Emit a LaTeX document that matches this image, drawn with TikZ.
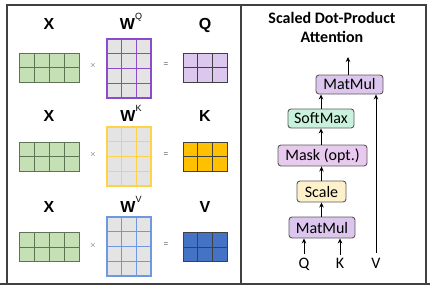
\documentclass[tikz,border=0pt]{standalone}
\usepackage{fontspec}
\setmainfont{Carlito}
\newfontfamily\labfont{Liberation Sans}
\usetikzlibrary{calc,arrows.meta}
\definecolor{frameC}{HTML}{404040}
\definecolor{xFill}{HTML}{C5E0B4}
\definecolor{xDraw}{HTML}{5E7356}
\definecolor{wFill}{HTML}{E4E4E4}
\definecolor{wqDraw}{HTML}{8A4CC8}
\definecolor{wkDraw}{HTML}{FFD24A}
\definecolor{wvDraw}{HTML}{6E98E0}
\definecolor{qFill}{HTML}{DCC8EE}
\definecolor{kFill}{HTML}{FFC000}
\definecolor{vFill}{HTML}{4472C4}
\definecolor{resDraw}{HTML}{404040}
\definecolor{mmFill}{HTML}{DCC6EE}
\definecolor{maskFill}{HTML}{E8CAEE}
\definecolor{smFill}{HTML}{C8F2DE}
\definecolor{scFill}{HTML}{FDF1CC}
\definecolor{boxDraw}{HTML}{5A5A5A}
\definecolor{opC}{HTML}{505050}
\newcommand{\matgrid}[4]{% node, cols, rows, style
  \pgfmathtruncatemacro\mcols{#2-1}%
  \pgfmathtruncatemacro\mrows{#3-1}%
  \foreach \c in {1,...,\mcols}{%
    \draw[#4] ($(#1.north west)!\c/#2!(#1.north east)$) -- ($(#1.south west)!\c/#2!(#1.south east)$);}%
  \foreach \r in {1,...,\mrows}{%
    \draw[#4] ($(#1.north west)!\r/#3!(#1.south west)$) -- ($(#1.north east)!\r/#3!(#1.south east)$);}%
}
\tikzset{
  matnode/.style={rectangle, inner sep=0pt, outer sep=0pt, line width=1pt},
  xmat/.style={matnode, minimum width=60pt, minimum height=29pt, fill=xFill, draw=xDraw},
  wmat/.style={matnode, minimum width=44pt, minimum height=59pt, fill=wFill, line width=1.2pt},
  rmat/.style={matnode, minimum width=44pt, minimum height=29pt, draw=resDraw},
  lab/.style={font=\labfont\bfseries\fontsize{16}{18}\selectfont, anchor=base, inner sep=0pt},
  opsign/.style={font=\labfont\fontsize{8}{9}\selectfont, text=opC, inner sep=0pt},
  blk/.style={rectangle, rounded corners=3pt, draw=boxDraw, line width=0.9pt, inner sep=0pt,
    font=\fontsize{16}{18}\selectfont},
  arr/.style={-{Stealth[length=5pt,width=4.5pt]}, line width=0.9pt, black},
  inlab/.style={font=\fontsize{16}{18}\selectfont, anchor=base, inner sep=0pt},
}
\newcommand{\supr}[1]{\raisebox{10pt}{\fontsize{9}{9}\selectfont\mdseries #1}}
\begin{document}
\begin{tikzpicture}[x=1pt,y=-1pt]
\useasboundingbox (0,0) rectangle (430,287);
% frame
\draw[frameC, line width=1.1pt] (7,284) -- (7,5) -- (426,5) -- (426,284);
\draw[frameC, line width=1.1pt] (0,284) -- (430,284);
\draw[frameC, line width=1.1pt] (241,5) -- (241,284);

% ---------- row 1 ----------
\node[lab] (lx1) at (49,29) {X};
\node[lab] (lw1) at (131,29) {W\supr{Q}};
\node[lab] (lq) at (205,29) {Q};
\node[xmat] (x1) at (49,67.5) {};
\matgrid{x1}{4}{2}{xDraw, line width=1pt}
\node[wmat, draw=wqDraw] (w1) at (129,68.5) {};
\matgrid{w1}{3}{4}{wqDraw, line width=1.2pt}
\node[rmat, fill=qFill] (q) at (205,67.5) {};
\matgrid{q}{3}{2}{resDraw, line width=1pt}
\node[opsign] (t1) at (93,65) {$\times$};
\node[opsign] (e1) at (166,65) {=};

% ---------- row 2 ----------
\node[lab] (lx2) at (49,121.5) {X};
\node[lab] (lw2) at (131,121.5) {W\supr{K}};
\node[lab] (lk) at (205,121.5) {K};
\node[xmat] (x2) at (49,156.5) {};
\matgrid{x2}{4}{2}{xDraw, line width=1pt}
\node[wmat, draw=wkDraw] (w2) at (129,156.5) {};
\matgrid{w2}{3}{4}{wkDraw, line width=1.2pt}
\node[rmat, fill=kFill, draw=frameC] (k) at (205,156.5) {};
\matgrid{k}{3}{2}{resDraw, line width=1pt}
\node[opsign] (t2) at (93,154.5) {$\times$};
\node[opsign] (e2) at (166,154.5) {=};

% ---------- row 3 ----------
\node[lab] (lx3) at (49,212) {X};
\node[lab] (lw3) at (131,212) {W\supr{V}};
\node[lab] (lv) at (205,212) {V};
\node[xmat] (x3) at (49,247) {};
\matgrid{x3}{4}{2}{xDraw, line width=1pt}
\node[wmat, draw=wvDraw] (w3) at (129,246.5) {};
\matgrid{w3}{3}{4}{wvDraw, line width=1.2pt}
\node[rmat, fill=vFill] (v) at (205,247) {};
\matgrid{v}{3}{2}{resDraw, line width=1pt}
\node[opsign] (t3) at (93,245) {$\times$};
\node[opsign] (e3) at (166,245) {=};

% ---------- right panel ----------
\node[font=\bfseries\fontsize{16}{18}\selectfont, anchor=base, inner sep=0pt] (t1a) at (332,23.3) {Scaled Dot-Product};
\node[font=\bfseries\fontsize{16}{18}\selectfont, anchor=base, inner sep=0pt] (t1b) at (332,42.3) {Attention};

\node[blk, fill=mmFill, minimum width=67pt, minimum height=19pt] (mm2) at (349.5,84.5) {MatMul};
\node[blk, fill=smFill, minimum width=66pt, minimum height=19pt] (sm) at (321,118.5) {SoftMax};
\node[blk, fill=maskFill, minimum width=89pt, minimum height=21pt] (mask) at (322.5,155.5) {Mask (opt.)};
\node[blk, fill=scFill, minimum width=49pt, minimum height=21pt] (sc) at (321.5,191.5) {Scale};
\node[blk, fill=mmFill, minimum width=66pt, minimum height=21pt] (mm1) at (322,227.5) {MatMul};

\node[inlab] (iq) at (304,268) {Q};
\node[inlab] (ik) at (340,268) {K};
\node[inlab] (iv) at (376,268) {V};

\coordinate (out) at (348,57);
\draw[arr] (mm2.north -| out) -- (out);
\draw[arr] (sm.north) -- (sm.north |- mm2.south);
\draw[arr] (mask.north -| sm.north) -- (sm.south);
\draw[arr] (sc.north) -- (sc.north |- mask.south);
\draw[arr] (mm1.north -| sc.north) -- (sc.south);
\draw[arr] ([yshift=3pt]iq.north) -- (iq.north |- mm1.south);
\draw[arr] ([yshift=3pt]ik.north) -- (ik.north |- mm1.south);
\draw[arr] ([yshift=5pt]iv.north) -- (iv.north |- mm2.south);
\end{tikzpicture}
\end{document}
